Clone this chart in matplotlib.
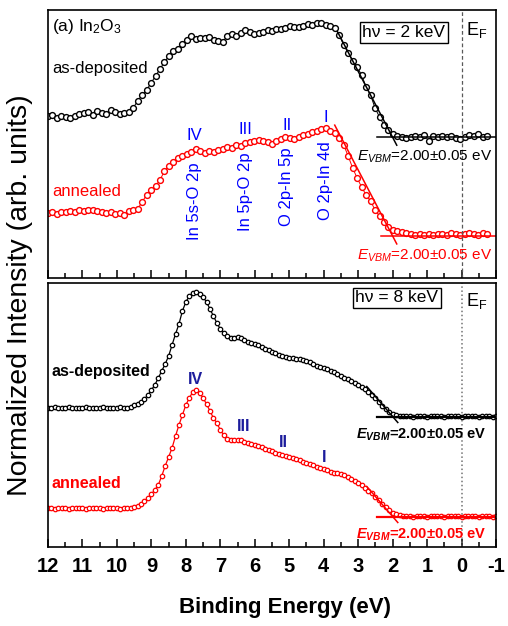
import numpy as np
import matplotlib.pyplot as plt

plt.rcParams['font.family'] = 'Liberation Sans'
plt.rcParams['mathtext.fontset'] = 'custom'
plt.rcParams['mathtext.rm'] = 'Liberation Sans'
plt.rcParams['mathtext.it'] = 'Liberation Sans:italic'
plt.rcParams['mathtext.bf'] = 'Liberation Sans:bold'
plt.rcParams['mathtext.bfit'] = 'Liberation Sans:italic:bold'

# -----------------------------
# hv = 2 keV spectra
# -----------------------------
energy_2kev = np.round(np.arange(12.0, -0.8, -0.13), 2)
asdep_2kev = [162, 163, 160, 162, 161, 160, 162, 164, 165, 166,
              163, 167, 165, 164, 168, 166, 164, 165, 166, 170,
              177, 183, 188, 195, 202, 209, 216, 222, 227, 229,
              234, 238, 242, 239, 240, 240, 241, 238, 237, 236,
              242, 244, 242, 245, 248, 246, 244, 245, 246, 248,
              247, 249, 249, 250, 252, 251, 251, 252, 254, 253,
              255, 255, 253, 252, 250, 243, 233, 225, 217, 211,
              203, 191, 183, 170, 161, 153, 148, 144, 142, 141,
              140, 141, 142, 141, 143, 137, 142, 141, 142, 141,
              142, 140, 139, 141, 143, 142, 144, 141, 142]
anneal_2kev = [65, 66, 64, 66, 66, 67, 66, 68, 67, 68,
               68, 67, 66, 65, 66, 64, 65, 63, 67, 68,
               69, 76, 83, 88, 92, 98, 107, 112, 116, 120,
               122, 124, 126, 129, 127, 125, 127, 126, 128, 129,
               131, 130, 133, 132, 135, 136, 137, 138, 137, 136,
               134, 137, 139, 141, 140, 139, 141, 143, 144, 146,
               147, 149, 150, 147, 145, 140, 133, 122, 110, 100,
               91, 83, 77, 68, 62, 56, 51, 48, 47, 46,
               45, 44, 43, 44, 43, 44, 43, 44, 44, 43,
               45, 44, 43, 44, 45, 44, 43, 45, 44]

# -----------------------------
# hv = 8 keV spectra
# -----------------------------
energy_8kev = np.round(np.arange(12.0, -1.05, -0.1), 2)
asdep_8kev = [139, 139, 140, 139, 139, 139, 140, 139, 139, 139,
              139, 140, 139, 139, 139, 139, 140, 139, 139, 139,
              139, 140, 139, 139,
              140, 142, 143, 145, 148, 152, 157, 162, 169, 176,
              183, 191, 202, 213, 223, 236, 245, 251, 254, 255,
              253, 250, 245, 238, 231, 224, 218, 214, 211, 209,
              209, 210, 209, 207, 205, 204, 203, 202, 200, 198,
              197, 195, 194, 192, 191, 190, 189, 189, 188, 188,
              187, 186, 185, 183, 181, 180, 179, 178, 176, 175,
              173, 171, 169, 168, 166, 164, 162, 160, 158, 155,
              152, 149, 145, 141, 138, 135, 133, 132, 131, 131,
              131, 131, 130, 131, 131, 131, 130, 131, 131, 131,
              131, 130, 131, 131, 131, 131, 130, 131, 131, 131,
              131, 130, 131, 131, 131, 130, 131]
anneal_8kev = [39, 39, 38, 39, 39, 39, 38, 39, 39, 39,
               39, 38, 39, 39, 39, 39, 38, 39, 39, 39,
               39, 38, 39, 39, 39,
               40, 41, 43, 46, 49, 53, 57, 62, 71, 81,
               90, 99, 111, 122, 132, 142, 149, 155, 157, 154,
               149, 143, 136, 129, 124, 117, 112, 108, 107, 107,
               107, 107, 105, 104, 103, 102, 101, 100, 98, 97,
               96, 94, 93, 92, 91, 90, 89, 88, 87, 85,
               84, 83, 82, 80, 79, 78, 77, 75, 74, 74,
               73, 72, 70, 68, 66, 64, 62, 59, 56, 54,
               50, 47, 43, 40, 37, 34, 33, 32, 31,
               31, 31, 30, 31, 31, 31, 30, 31, 31, 31,
               31, 30, 31, 31, 31, 31, 30, 31, 31, 31,
               31, 30, 31, 31, 31, 30, 31]

# valence band edge fits: VBM, background level, edge slope
vbm = 2.00
base_2kev = [140.7, 42.0]
slope_2kev = [66.0, 66.0]
base_8kev = [130.5, 30.5]
slope_8kev = [40.0, 40.0]

peaks_2kev = ['IV', 'III', 'II', 'I']
states_2kev = ['In 5s-O 2p', 'In 5p-O 2p', 'O 2p-In 5p', 'O 2p-In 4d']
peak_e_2kev = [7.74, 6.26, 5.07, 3.94]
peak_e_8kev = [7.72, 6.32, 5.16, 4.00]

W, H = 508, 626
fig = plt.figure(figsize=(W / 100, H / 100), dpi=100)
ax1 = fig.add_axes([48 / W, 1 - 278 / H, 448 / W, 268 / H])
ax2 = fig.add_axes([48 / W, 1 - 547 / H, 448 / W, 264 / H])
ax1.set_ylim(0, 268)
ax2.set_ylim(0, 264)

for ax in (ax1, ax2):
    ax.set_xlim(12, -1)
    ax.set_xticks(np.arange(12, -2, -1))
    ax.set_xticks(np.arange(11.5, -1, -1), minor=True)
    ax.set_yticks([])
    ax.tick_params(axis='x', which='major', direction='in', length=6, width=1.1, top=False)
    ax.tick_params(axis='x', which='minor', direction='in', length=3.5, width=1.1, top=False)
    for s in ax.spines.values():
        s.set_linewidth(1.2)

ax1.tick_params(axis='x', labelbottom=False)
ax2.tick_params(axis='x', which='major', labelsize=14.5, pad=7)
ax2.set_xticklabels([str(v) for v in range(12, -2, -1)], fontweight='bold')

# -----------------------------
# top panel: hv = 2 keV
# -----------------------------
ax1.plot(energy_2kev, asdep_2kev, '-o', color='black', lw=0.7, ms=4.2, mfc='white', mew=1.0)
ax1.plot(energy_2kev, anneal_2kev, '-o', color='red', lw=0.7, ms=4.2, mfc='white', mew=1.0)
ax1.axvline(0, color='0.35', ls='--', lw=0.9, dashes=(3, 2))

for b, m, c, e_hi, e_lo in zip(base_2kev, slope_2kev, ['black', 'red'], [3.6, 3.68], [2.45, 2.35]):
    ax1.plot([e_hi, 1.88], [b + m * (e_hi - vbm), b + m * (1.88 - vbm)], color=c, lw=1.1)
    ax1.plot([e_lo, -1.0], [b, b], color=c, lw=1.1)

ax1.text(11.88, 252, '(a) In$_2$O$_3$', fontsize=12.5, va='center', ha='left')
ax1.text(11.88, 209, 'as-deposited', fontsize=12, va='center', ha='left')
ax1.text(11.88, 86, 'annealed', fontsize=12, va='center', ha='left', color='red')
ax1.text(1.68, 245.5, 'hν = 2 keV', fontsize=12.5, ha='center', va='center',
         bbox=dict(boxstyle='square,pad=0.15', fc='white', ec='black', lw=1.0))
ax1.text(-0.12, 248, r'E$_\mathregular{F}$', fontsize=13, ha='left', va='center')
ax1.text(3.04, 121, r'$E_{VBM}$=2.00±0.05 eV', fontsize=11, ha='left', va='center')
ax1.text(3.04, 22, r'$E_{VBM}$=2.00±0.05 eV', fontsize=11, ha='left', va='center', color='red')

for e, p, y in zip(peak_e_2kev, peaks_2kev, [142, 149, 152, 161]):
    ax1.text(e, y, p, fontsize=12, color='blue', ha='center', va='center')
for e, s, y in zip(peak_e_2kev, states_2kev, [116, 126, 131, 137]):
    ax1.text(e, y, s, fontsize=12, color='blue', ha='center', va='top', rotation=90)

# -----------------------------
# bottom panel: hv = 8 keV
# -----------------------------
ax2.plot(energy_8kev, asdep_8kev, '-o', color='black', lw=0.9, ms=3.2, mfc='white', mew=0.9)
ax2.plot(energy_8kev, anneal_8kev, '-o', color='red', lw=0.9, ms=3.2, mfc='white', mew=0.9)
ax2.axvline(0, color='0.45', ls=':', lw=1.1)

for b, m, c in zip(base_8kev, slope_8kev, ['black', 'red']):
    ax2.plot([2.75, 1.85], [b + m * (2.75 - vbm), b + m * (1.85 - vbm)], color=c, lw=1.1)
    ax2.plot([2.45, -1.0], [b, b], color=c, lw=1.6)

ax2.text(11.9, 175, 'as-deposited', fontsize=11.5, fontweight='bold', va='center', ha='left')
ax2.text(11.9, 64, 'annealed', fontsize=11.5, fontweight='bold', va='center', ha='left', color='red')
ax2.text(1.88, 249, 'hν = 8 keV', fontsize=12.5, ha='center', va='center',
         bbox=dict(boxstyle='square,pad=0.15', fc='white', ec='black', lw=1.0))
ax2.text(-0.12, 246, r'E$_\mathregular{F}$', fontsize=13, ha='left', va='center')
ax2.text(3.07, 112, r'$\mathbfit{E}_{\mathbfit{VBM}}$=2.00±0.05 eV', fontsize=10.5, fontweight='bold',
         ha='left', va='center')
ax2.text(3.07, 12, r'$\mathbfit{E}_{\mathbfit{VBM}}$=2.00±0.05 eV', fontsize=10.5, fontweight='bold',
         ha='left', va='center', color='red')

for e, p, y in zip(peak_e_8kev, peaks_2kev, [167, 120, 104, 90]):
    ax2.text(e, y, p, fontsize=11.5, fontweight='bold', color='#1c1c9c', ha='center', va='center')

fig.text(20 / W, 1 - 295 / H, 'Normalized Intensity (arb. units)', rotation=90,
         fontsize=20.5, ha='center', va='center')
fig.text(285 / W, 1 - 608 / H, 'Binding Energy (eV)', fontsize=16, fontweight='bold',
         ha='center', va='center')

fig.savefig('out.png', dpi=100)
